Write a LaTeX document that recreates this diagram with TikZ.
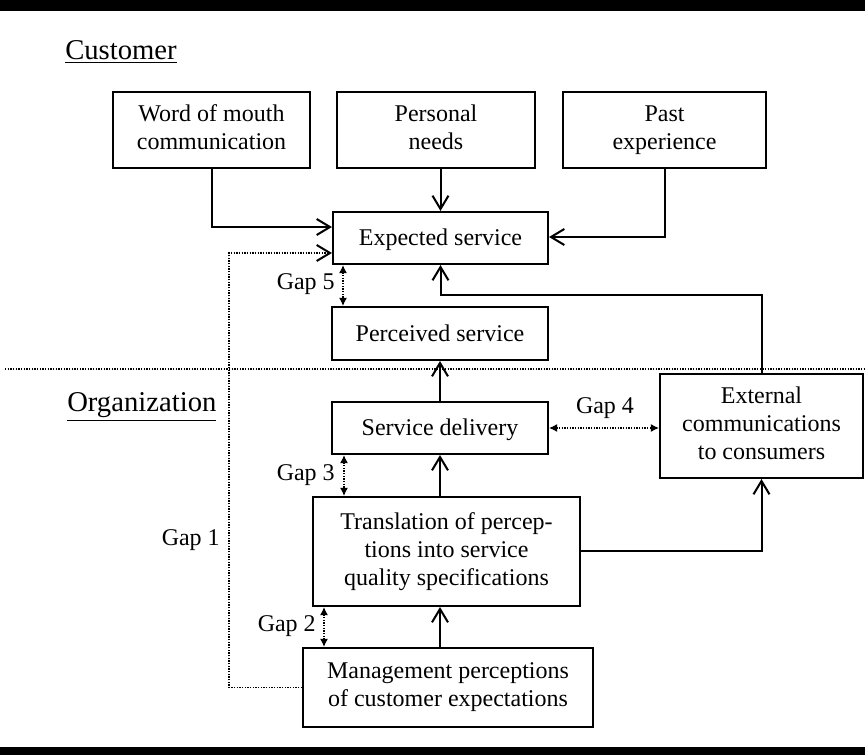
\documentclass[tikz,border=0pt]{standalone}
\usepackage{fontspec}
\setmainfont{Liberation Serif}
\usetikzlibrary{arrows.meta}
\begin{document}
\begin{tikzpicture}[x=0.75pt,y=-0.75pt,
  box/.style={draw, line width=1.6pt, align=center, inner sep=0pt, font=\fontsize{18}{21}\selectfont,
    execute at begin node={\rule{0pt}{16pt}}, execute at end node={\rule[-4pt]{0pt}{4pt}}},
  sz/.style 2 args={minimum width=#1*0.75pt, minimum height=#2*0.75pt},
  arr/.style={line width=1.5pt, -{Straight Barb[length=10pt,width=12pt]}},
  dotarr/.style={line width=1.1pt, dash pattern=on 1pt off 1pt, -{Straight Barb[length=10pt,width=12pt,line width=1.5pt]}},
  gaparr/.style={line width=1pt, dash pattern=on 1pt off 1pt, {Latex[length=6pt,width=6pt]}-{Latex[length=6pt,width=6pt]}},
  sepline/.style={line width=1pt, dash pattern=on 1pt off 1pt},
  lbl/.style={inner sep=0pt, font=\fontsize{18}{21}\selectfont},
  head/.style={inner sep=0pt, font=\fontsize{21.5}{24}\selectfont}]
\useasboundingbox (0,0) rectangle (865,755);
\fill[black] (0,0) rectangle (865,11);
\fill[black] (0,747) rectangle (865,755);

% headers
\node[head, anchor=base west] (cust) at (65,60) {\underline{Customer}};
\node[head, anchor=base west] (org) at (67,412) {\underline{Organization}};

% separator
\draw[sepline] (5,369) -- (865,369);

% boxes
\node[box, sz={197}{76}] (wom) at (211.5,130) {Word of mouth\\communication};
\node[box, sz={198}{76}] (pn) at (436,130) {Personal\\needs};
\node[box, sz={203}{76}] (pe) at (664.5,130) {Past\\experience};
\node[box, sz={215}{52}] (es) at (440.5,238) {Expected service};
\node[box, sz={216}{53}] (ps) at (440,333.5) {Perceived service};
\node[box, sz={216}{52}] (sd) at (440,428) {Service delivery};
\node[box, sz={267}{109}] (tr) at (446.5,551.5) {Translation of percep-\\tions into service\\quality specifications};
\node[box, sz={290}{79}] (mg) at (448,687.5) {Management perceptions\\of customer expectations};
\node[box, sz={203}{104}] (ex) at (761.5,426) {External\\communications\\to consumers};

% arrows
\draw[arr] (wom.south) |- (es.west |- 0,227);
\draw[arr] (pn.south -| es.north) -- (es.north);
\draw[arr] (pe.south) |- (es.east |- 0,237);
\draw[dotarr] (mg.west) -| (229,253) -- (es.west |- 0,253);
\draw[arr] (ex.north) |- (es.south |- 0,295) -- (es.south);
\draw[arr] (sd.north) -- (ps.south);
\draw[arr] (tr.north -| sd.south) -- (sd.south);
\draw[arr] (mg.north -| sd.south) -- (tr.south -| sd.south);
\draw[arr] (tr.east) -| (ex.south);

% gaps
\draw[gaparr] (es.south -| 343,0) -- (ps.north -| 343,0);
\node[lbl, anchor=east] (g5) at (335,284) {Gap 5};
\draw[gaparr] (sd.south -| 344,0) -- (tr.north -| 344,0);
\node[lbl, anchor=east] (g3) at (335,475) {Gap 3};
\draw[gaparr] (tr.south -| 324,0) -- (mg.north -| 324,0);
\node[lbl, anchor=east] (g2) at (316,626) {Gap 2};
\draw[gaparr] (sd.east) -- (ex.west |- sd.east);
\node[lbl] (g4) at (605,408) {Gap 4};
\node[lbl, anchor=east] (g1) at (220,540) {Gap 1};
\end{tikzpicture}
\end{document}
